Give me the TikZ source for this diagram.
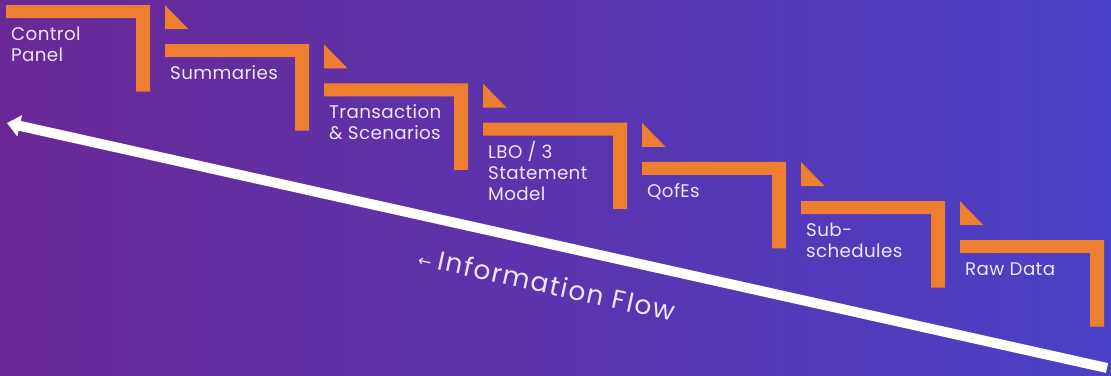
\documentclass[tikz,border=0pt]{standalone}
\usepackage{fontspec}
\setmainfont[LetterSpace=2]{Poppins}
\newfontfamily\flowfont[LetterSpace=6]{Poppins}
\newfontfamily\symfont{DejaVu Sans}
\usetikzlibrary{arrows.meta}
\definecolor{bgleft}{HTML}{6A2896}
\definecolor{bgmid}{HTML}{5A48B2}
\definecolor{bgright}{HTML}{4A40C6}
\definecolor{stepor}{HTML}{EE7F30}
\definecolor{labeltxt}{HTML}{EEE6FA}
% stacked label lines with a fixed baseline distance; baseline = first line
\newcommand\steplines[1]{\vtop{\baselineskip=21pt\lineskiplimit=-10pt\halign{##\hfil\cr#1\crcr}}}
\tikzset{
  stepshape/.style={fill=stepor},
  steplabel/.style={anchor=base west, inner sep=0pt, text=labeltxt,
    font=\fontsize{18.3}{21}\selectfont},
  flowarrow/.style={draw=white, line width=10pt,
    -{Triangle[length=13pt,width=21pt]}},
  flowlabel/.style={anchor=base west, inner sep=0pt, text=labeltxt,
    font=\flowfont\fontsize{26.5}{30}\selectfont},
}
\begin{document}
\begin{tikzpicture}[x=1pt,y=-1pt]
  \shade[left color=bgleft, middle color=bgmid, right color=bgright]
    (0,0) rectangle (1111,375);
  \useasboundingbox (0,0) rectangle (1111,375);

  % staircase of steps: bar with a drop on its right, a flag above each
  \foreach \i/\txt in {0/{Control\cr Panel}, 1/{Summaries},
      2/{Transaction\cr \& Scenarios}, 3/{LBO / 3\cr Statement\cr Model},
      4/{QofEs}, 5/{Sub-\cr schedules}, 6/{Raw Data}} {
    \pgfmathsetmacro\stepx{6+159*\i}
    \pgfmathsetmacro\stepy{5+39.2*\i}
    \fill[stepshape] (\stepx,\stepy) -- ++(144,0) -- ++(0,86.5) -- ++(-14,0)
      -- ++(0,-73.5) -- (\stepx,\stepy+13) -- cycle;
    \ifnum\i>0
      \fill[stepshape] (\stepx,\stepy-39) -- (\stepx,\stepy-15)
        -- (\stepx+23.5,\stepy-15) -- cycle;
    \fi
    \node[steplabel] (step\i) at (\stepx+5,\stepy+35.5) {\steplines{\txt}};
  }

  % information flow arrow
  \coordinate (flowtail) at (1107,368);
  \coordinate (flowhead) at (7,123);
  \draw[flowarrow] (flowtail) -- (flowhead);
  \node[flowlabel, rotate=-12.5] (flowtext) at (417,265)
    {{\symfont\fontsize{16}{16}\selectfont ←}\hspace{6pt}Information Flow};
\end{tikzpicture}
\end{document}
